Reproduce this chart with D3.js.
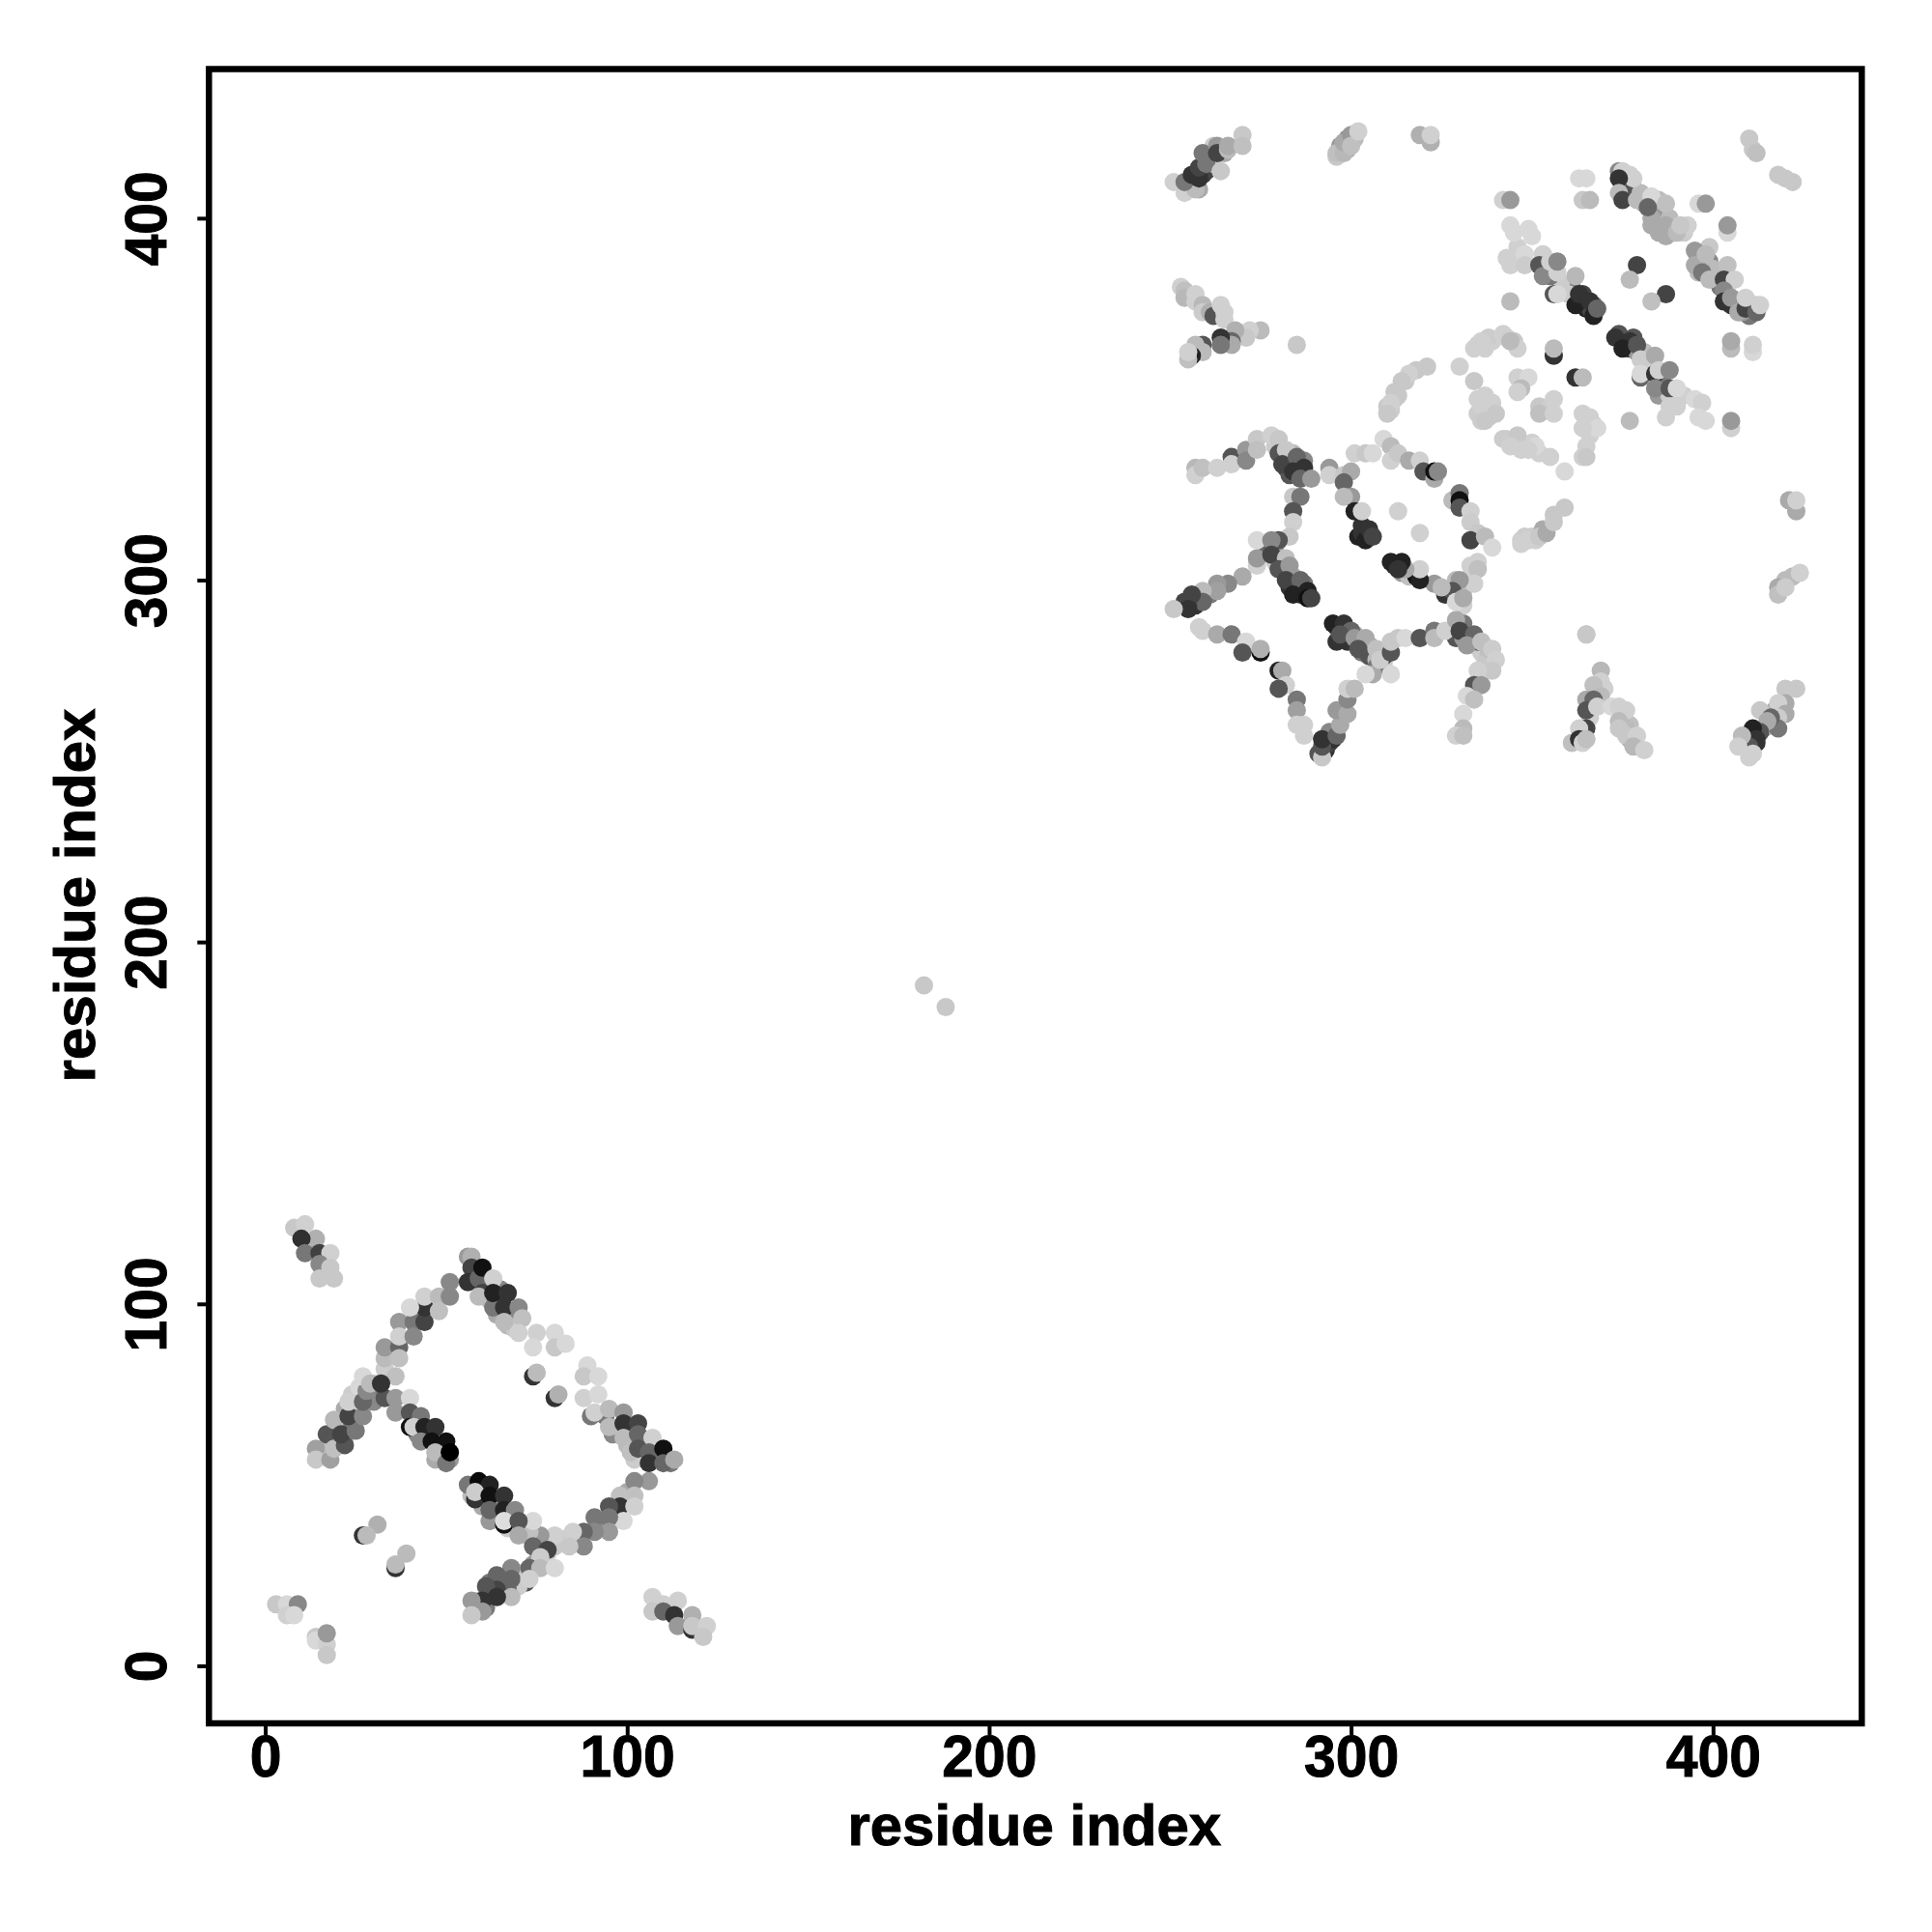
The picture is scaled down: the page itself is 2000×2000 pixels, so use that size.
<!DOCTYPE html>
<html><head><meta charset="utf-8">
<script src="https://cdn.jsdelivr.net/npm/d3@7/dist/d3.min.js"></script>
<style>html,body{margin:0;background:#fff}svg{display:block}text{font-family:"Liberation Sans";font-weight:700;fill:#000;stroke:#000;stroke-width:1px}</style>
</head><body><svg id="c" width="2000" height="2000"></svg>
<script>
const tickValues=[0,100,200,300,400];
const xLabel="residue index", yLabel="residue index";
// each contact: residue i, residue j, grey shade
const helixA=[[8,121,200],[11,122,208],[14,118,176],[10,118,48],[11,114,119],[15,114,64],[18,114,208],[15,111,136],[18,110,200],[15,107,200],[19,107,200]];
const armLeft=[[14,60,160],[14,57,200],[18,57,160],[17,64,85],[19,68,184],[19,60,192],[22,61,85],[21,64,68],[25,65,119],[23,69,68],[27,69,136],[23,73,208],[27,73,102],[28,76,136],[27,80,216],[29,78,187],[33,82,204],[33,85,187],[33,88,153],[37,88,102],[37,85,192],[37,95,153],[41,95,119],[37,91,208],[41,91,136],[44,95,68],[44,99,51],[40,99,216],[44,102,208],[48,102,187],[48,98,192],[51,106,136],[51,102,136]];
const armInner=[[36,80,192],[33,74,85],[32,78,51],[36,74,153],[40,74,216],[36,70,153],[40,70,85],[43,69,119],[40,66,17],[41,66,208],[44,66,34],[47,66,51],[43,62,136],[46,62,17],[50,62,17],[47,59,187],[50,56,119],[51,59,0]];
const armTop=[[56,113,153],[57,113,176],[57,110,68],[56,106,51],[59,107,102],[60,110,17],[63,107,208],[60,103,68],[59,102,187],[63,99,119],[63,103,34],[67,103,51],[66,99,51],[70,99,136],[66,95,187],[71,96,192],[70,92,208],[75,92,208],[74,88,216],[80,92,216],[80,88,200],[83,89,216],[74,80,51],[75,81,187],[80,74,51],[81,75,176]];
const armRight=[[89,83,216],[88,80,200],[92,80,216],[88,74,208],[92,75,216],[90,69,119],[91,70,208],[95,71,187],[99,70,153],[95,66,187],[99,67,51],[103,67,68],[99,63,187],[103,64,102],[101,59,192],[103,60,85],[107,63,208],[106,59,102],[106,56,51],[110,60,17],[110,56,102],[113,57,170]];
const armLower=[[106,51,153],[102,51,136],[102,47,192],[98,47,192],[98,44,51],[102,44,208],[95,44,85],[99,40,216],[95,41,119],[91,41,119],[95,37,153],[91,37,136],[88,37,102],[85,37,208],[88,33,136],[84,33,200],[80,33,200],[80,36,208],[76,36,153],[73,37,192],[74,40,216]];
const armMid=[[56,50,119],[59,51,10],[62,50,34],[58,46,51],[58,48,204],[62,47,17],[66,47,51],[62,43,102],[66,43,34],[69,43,136],[66,39,17],[66,40,221],[70,40,85],[70,36,170]];
const armBottom=[[74,33,102],[78,32,68],[76,30,204],[73,27,102],[76,27,187],[80,27,216],[68,27,136],[64,25,102],[68,24,102],[73,24,208],[64,21,68],[61,22,85],[68,19,187],[64,19,51],[60,18,51],[57,18,153],[60,15,153],[57,14,200]];
const strandPairs=[[31,39,176],[27,36,51],[28,36,187],[39,31,187],[36,27,51],[36,28,187],[3,17,200],[6,17,216],[9,17,136],[6,14,208],[8,14,216],[14,8,200],[14,7,216],[17,6,208],[17,3,200],[17,9,153]];
const helixB=[[107,19,208],[110,17,208],[114,18,208],[107,15,200],[110,15,102],[113,14,51],[118,14,176],[114,11,153],[118,10,51],[118,11,200],[122,11,208],[121,8,200]];
const loneContacts=[[182,188,200],[188,182,200],[285,365,200],[365,285,200]];
const topLeft=[[251,410,208],[254,407,208],[257,408,187],[254,410,119],[256,412,51],[258,411,51],[258,414,68],[259,418,119],[260,415,119],[263,420,153],[263,418,68],[264,413,200],[266,419,187],[266,420,170],[270,423,200],[270,420,192]];
const topMid=[[296,418,192],[298,418,184],[298,421,170],[300,423,153],[300,420,192],[302,424,208],[319,423,176],[322,421,176],[322,423,208]];
const leftUpper=[[253,381,208],[254,380,192],[254,378,184],[257,379,208],[257,377,208],[259,376,184],[259,374,204],[261,374,176],[262,373,85],[264,376,208],[265,374,208],[265,372,208]];
const leftLower=[[275,369,187],[272,369,208],[271,367,200],[268,369,176],[267,366,102],[267,365,170],[264,367,51],[264,365,119],[259,365,85],[259,363,187],[257,365,187],[256,362,34],[255,361,192],[255,363,208]];
const wingUpper=[[257,331,184],[257,329,208],[259,331,192],[263,331,208],[267,334,85],[267,332,208],[271,336,153],[271,333,136],[274,339,200],[274,336,192],[278,340,208],[280,339,200],[280,335,85],[282,336,200],[281,332,68],[285,334,102],[284,330,51],[287,331,51],[286,328,102],[289,328,153]];
const wingLink=[[284,323,200],[286,323,119],[284,319,85],[284,316,208],[283,312,200],[280,311,85],[274,311,216],[274,304,208],[274,306,153]];
const wingDiag=[[278,311,136],[278,307,68],[282,306,192],[280,303,85],[283,304,153],[282,300,68],[286,300,102],[284,296,34],[288,297,34],[288,295,17],[289,295,68]];
const wingLeft=[[270,301,170],[266,299,136],[263,299,153],[263,297,160],[259,297,187],[259,294,102],[256,296,68],[255,293,68],[255,292,51],[251,292,200]];
const wingBelow=[[258,287,208],[259,286,208],[263,285,170],[267,285,119],[271,283,216],[270,280,85],[275,280,17],[275,281,176],[280,275,34],[281,275,170],[282,271,208],[280,270,85],[285,267,119],[285,264,160],[285,260,208],[287,260,208],[287,257,208]];
const wingBottom=[[292,251,200],[292,254,85],[292,256,51],[296,257,102],[297,260,170],[296,264,153],[299,263,170],[299,267,136],[299,270,208],[301,270,187]];
const midDiag=[[295,288,34],[298,288,51],[300,286,102],[297,285,85],[301,284,153],[304,284,170],[302,281,85],[307,281,192],[306,274,170],[304,274,216],[308,278,204],[311,280,85],[311,283,200],[313,284,200],[315,284,216],[311,274,216]];
const midRight=[[319,284,85],[323,286,119],[323,284,187],[326,286,208],[329,289,170],[330,286,68],[334,285,102],[332,282,153],[336,283,192],[339,281,204],[340,278,208],[339,275,200],[335,275,208],[334,271,85],[336,271,153],[332,268,216],[334,267,192],[331,263,216],[331,259,187],[329,257,208],[331,257,192]];
const ringTop=[[294,331,153],[294,329,208],[298,329,200],[300,330,170],[298,327,102],[301,335,208],[304,335,200],[306,335,216],[309,339,216],[311,337,187],[311,333,208],[313,335,200],[316,333,170],[319,333,208],[320,330,85],[323,328,170],[323,330,17],[324,330,136]];
const ringRight=[[328,322,187],[330,324,119],[330,322,17],[330,320,85],[333,319,208],[333,316,204],[335,313,200],[333,311,68],[337,312,187],[339,309,216],[335,305,208],[333,304,208],[335,303,192],[334,299,208],[330,300,153],[328,297,85],[329,294,216],[331,295,170],[323,299,153],[325,298,187],[319,300,34],[319,303,208],[315,303,170],[314,305,34],[311,305,34],[313,303,51]];
const ringInner=[[300,323,153],[298,323,187],[301,319,34],[303,319,208],[303,313,51],[304,311,34],[305,314,51],[306,312,68],[313,319,208],[319,313,208]];
const corner=[[342,405,208],[344,405,153],[363,411,216],[365,411,216],[364,405,200],[366,405,187],[374,413,136],[375,413,208],[378,411,208],[374,411,51],[374,407,187],[375,405,68],[379,405,187],[383,406,216],[382,403,102],[387,404,192],[383,398,170],[387,398,170],[387,395,170],[390,396,187],[391,398,200],[396,404,216],[398,404,153],[404,396,216],[404,398,153],[410,422,200],[411,419,200],[412,418,192],[418,412,200],[420,411,200],[422,410,200]];
const cornerDiag=[[399,392,200],[395,391,153],[395,387,170],[398,390,187],[397,385,119],[399,383,187],[404,387,192],[403,383,68],[406,383,208],[403,380,136],[403,377,51],[405,378,153],[407,374,170],[409,375,68],[409,378,208],[412,374,102],[413,376,208],[405,364,187],[405,366,170],[411,363,216],[411,365,208]];
const mainUpper=[[344,398,216],[345,396,216],[349,397,216],[350,395,216],[344,387,208],[348,390,216],[348,387,204],[353,390,208],[352,387,85],[353,384,136],[355,388,208],[357,385,208],[357,388,136],[362,384,184],[356,379,85],[357,379,216],[344,377,187],[362,376,34],[363,379,51],[366,377,51],[367,373,34],[368,375,102],[379,387,68],[377,383,187],[387,379,68],[383,377,192]];
const mainLower=[[374,368,85],[373,367,51],[377,366,51],[375,364,34],[379,365,85],[380,361,204],[384,362,170],[380,356,102],[380,357,216],[384,357,51],[385,358,208],[388,358,136],[384,353,136],[388,353,85],[390,353,216],[388,348,208],[390,348,208],[387,345,208],[395,350,216],[397,349,208],[396,345,216],[398,344,216],[377,344,187],[405,342,208],[405,344,153]];
const ringFar=[[356,362,51],[356,364,187],[362,356,51],[364,356,187],[342,368,208],[345,366,200],[346,364,208],[344,366,187],[336,366,208],[334,364,208],[330,359,208],[334,355,200],[337,351,208],[336,348,208],[340,346,200],[337,344,200],[346,356,208],[349,356,216],[347,353,187],[346,352,208],[352,346,192],[356,350,208],[356,346,208],[364,346,208],[366,345,208],[368,342,216],[364,342,208],[365,337,208],[364,334,208],[365,334,200],[346,340,200],[344,337,208],[347,336,208],[351,337,216],[349,336,208],[355,334,208],[359,330,216]];
const ringMirror=[[321,359,200],[318,358,200],[316,357,208],[314,355,200],[312,352,200],[311,349,208],[310,346,200],[347,310,208],[349,311,208],[351,311,208],[352,312,200],[354,313,170],[356,316,200],[359,320,200]];
const rightSide=[[365,285,200],[369,275,184],[369,272,208],[367,271,192],[369,268,187],[365,267,170],[367,267,102],[365,264,85],[368,265,208],[365,259,68],[363,259,208],[361,255,192],[363,256,51],[364,255,208],[365,256,192],[372,265,216],[374,265,208],[376,264,208],[374,261,187],[376,259,187],[374,259,200],[376,257,200],[379,257,208],[378,254,184],[381,253,208]];
const rightLow=[[423,270,200],[420,270,200],[420,266,170],[418,266,208],[420,263,170],[418,262,204],[418,259,119],[413,264,200],[416,262,102],[415,261,170],[413,258,85],[411,259,34],[410,257,34],[412,256,51],[410,254,85],[408,257,187],[407,254,208],[410,251,208],[411,252,208]];
const rightHigh=[[421,322,170],[423,319,170],[423,322,208],[422,301,187],[420,300,187],[418,298,170],[418,296,192],[420,298,204],[424,302,208]];
// further contacts packed in between the ones above, mostly hidden under them
const lowerPacked=[[24,75,204],[26,77,216],[25,72,216],[28,74,187],[30,78,208],[30,75,119],[22,71,170],[24,70,204],[20,66,204],[24,66,119],[21,61,204],[20,63,170],[22,63,208],[18,61,187],[30,73,136],[45,63,187],[48,60,208],[47,57,170],[50,58,204],[42,64,136],[51,57,153],[58,108,68],[61,105,102],[64,101,85],[65,104,136],[62,101,187],[68,97,136],[64,97,170],[67,94,187],[69,93,200],[94,69,119],[96,64,136],[98,66,204],[100,61,187],[101,64,170],[104,62,85],[105,57,136],[102,57,204],[108,58,119],[112,56,119],[60,48,204],[60,44,170],[64,45,136],[64,41,51],[67,38,204],[57,47,187],[62,40,153],[68,41,119],[77,33,204],[74,34,153],[78,34,187],[82,35,204],[86,35,170],[93,39,136],[97,42,187],[100,48,170],[76,32,187],[75,29,204],[78,31,208],[74,28,153],[72,26,204],[72,23,85],[71,25,200],[70,22,204],[66,23,170],[66,20,204],[63,21,187],[62,19,208],[62,23,119],[59,18,200],[61,16,119],[67,21,102]];
const wingPacked=[[279,337,204],[281,334,200],[283,333,51],[284,335,187],[285,331,85],[287,333,136],[282,331,68],[283,329,85],[286,330,187],[277,309,102],[279,309,170],[281,304,119],[284,301,170],[282,302,204],[285,298,102],[283,298,51],[286,296,51],[279,305,204],[287,299,119],[256,294,85],[257,293,51],[258,295,187],[261,296,119],[254,294,68],[296,287,68],[299,285,136],[296,283,51],[299,283,51],[302,283,187],[303,280,119],[305,282,170],[305,279,85],[307,278,187],[309,277,204],[301,285,170],[307,276,119],[309,279,51],[328,286,136],[329,284,85],[331,288,119],[333,283,119],[331,284,153],[334,282,204],[336,280,204],[338,279,192],[337,277,200],[335,283,102],[338,281,192],[293,253,51],[294,255,68],[295,256,51],[294,258,136],[291,252,85],[303,315,51],[304,313,34],[302,312,34],[305,312,34],[312,304,51],[314,302,153],[316,301,192],[318,301,17],[326,296,51],[329,300,187],[331,297,192],[333,301,208],[331,293,208]];
const edgePacked=[[255,409,102],[256,409,51],[257,410,34],[259,412,51],[260,413,68],[261,416,153],[262,415,200],[258,408,170],[262,420,204],[265,418,170],[296,417,200],[297,420,153],[299,419,170],[299,422,136],[301,422,187],[411,256,34],[409,255,68],[412,258,119],[414,259,153],[416,260,187],[417,264,170],[412,255,51],[366,262,208],[366,266,187],[375,262,187],[377,260,192],[377,256,170],[370,270,208]];
const cornerPacked=[[375,409,170],[376,410,51],[376,407,187],[377,412,208],[378,408,85],[380,407,187],[381,404,170],[384,402,153],[385,405,187],[383,400,170],[385,396,170],[388,400,187],[389,396,153],[392,396,204],[393,398,208],[396,389,170],[396,385,187],[399,388,136],[401,384,153],[400,386,187],[402,381,119],[404,379,170],[405,376,51],[407,377,153],[407,376,204],[410,373,119],[411,376,208],[404,382,187],[408,374,153],[412,376,204],[364,377,85],[365,375,34],[364,379,68],[366,375,68],[367,376,102],[361,381,119],[358,382,204],[360,379,204],[354,386,102],[355,384,119],[346,392,208],[347,388,208],[343,389,208],[375,366,68],[376,365,34],[378,367,85],[377,364,51],[379,363,153],[381,363,187],[382,359,204],[386,356,187],[386,354,119],[385,351,153],[392,351,208],[388,351,204]];
const ringPacked=[[335,350,208],[338,347,200],[338,345,200],[335,346,204],[336,344,204],[339,349,208],[343,339,208],[348,337,208],[345,338,200],[350,338,208],[352,335,208],[342,339,204],[343,367,208],[339,366,208],[338,367,204],[335,365,208],[337,364,208],[352,348,200],[355,348,204],[365,344,208],[367,343,208],[366,340,208],[347,311,208],[348,312,204],[350,312,204],[353,314,170],[356,318,200],[315,355,200],[313,351,200],[312,350,200],[311,347,204],[310,348,200]];

const readContacts=[helixA,armLeft,armInner,armTop,armRight,armLower,armMid,armBottom,strandPairs,helixB,loneContacts,topLeft,topMid,leftUpper,leftLower,wingUpper,wingLink,wingDiag,wingLeft,wingBelow,wingBottom,midDiag,midRight,ringTop,ringRight,ringInner,corner,cornerDiag,mainUpper,mainLower,ringFar,ringMirror,rightSide,rightLow,rightHigh].flat();
const packed=[lowerPacked,wingPacked,edgePacked,cornerPacked,ringPacked].flat();
const allContacts=[...packed,...readContacts];

const L=216.3,R=1927.3,T=71.5,B=1784;
const x=d3.scaleLinear().domain([-15.55,441.1]).range([L,R]);
const y=d3.scaleLinear().domain([-15.9,441.2]).range([B,T]);
const svg=d3.select("#c");

svg.append("g").selectAll("circle").data(allContacts).join("circle")
  .attr("cx",d=>x(d[0])).attr("cy",d=>y(d[1])).attr("r",9.5)
  .attr("fill",d=>d3.rgb(d[2],d[2],d[2]));

svg.append("rect").attr("x",L).attr("y",T).attr("width",R-L).attr("height",B-T)
  .attr("fill","none").attr("stroke","#000").attr("stroke-width",6.5);

const gx=svg.append("g").attr("transform",`translate(0,${B})`)
  .call(d3.axisBottom(x).tickValues(tickValues).tickSize(12).tickPadding(0));
const gy=svg.append("g").attr("transform",`translate(${L},0)`)
  .call(d3.axisLeft(y).tickValues(tickValues).tickSize(12).tickPadding(0));
for(const g of [gx,gy]){
  g.select(".domain").remove();
  g.selectAll("line").attr("stroke","#000").attr("stroke-width",4);
  g.selectAll("text").attr("font-size",62).attr("dy",null).attr("x",null).attr("y",null).attr("text-anchor","middle").style("font-weight",700);
}
gx.selectAll("text").attr("transform","translate(0,55) scale(0.95,1)");
gy.selectAll("text").attr("transform","translate(-44,0) rotate(-90) scale(0.95,1)");

svg.append("text").attr("x",(L+R)/2-1).attr("y",1910).attr("text-anchor","middle").attr("font-size",60).text(xLabel);
svg.append("text").attr("transform","translate(98,927) rotate(-90)").attr("text-anchor","middle").attr("font-size",60).text(yLabel);
</script></body></html>
